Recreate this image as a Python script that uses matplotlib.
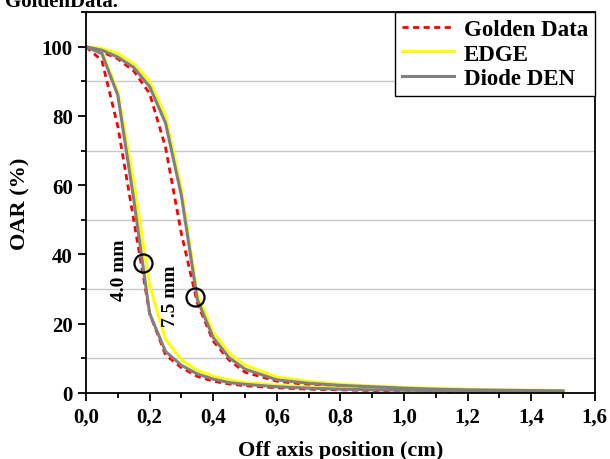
"""
OAR profiles for the 4.0 mm and 7.5 mm cones: golden data vs EDGE vs Diode DEN.
"""
import matplotlib
matplotlib.use("Agg")
import matplotlib.pyplot as plt
from matplotlib.ticker import MultipleLocator, FuncFormatter

# off axis position (cm), shared by all curves
pos_cm = [0, 0.05, 0.1, 0.15, 0.2, 0.25, 0.3, 0.35, 0.4, 0.45, 0.5,
          0.6, 0.7, 0.8, 0.9, 1.0, 1.1, 1.2, 1.3, 1.4, 1.5]

# 4.0 mm cone
golden_4mm = [100, 96, 77, 50, 23, 11, 7.3, 4.8, 3.4, 2.6, 2.1,
              1.5, 1.1, 0.9, 0.7, 0.6, 0.5, 0.4, 0.4, 0.3, 0.3]
edge_4mm = [100, 98.5, 87, 61, 31, 15.5, 9.5, 6.5, 4.8, 3.7, 3.0,
            2.2, 1.7, 1.4, 1.1, 0.9, 0.8, 0.7, 0.6, 0.6, 0.5]
diode_4mm = [100, 98, 86, 56, 23, 12, 8, 5.5, 4, 3, 2.5,
             1.8, 1.4, 1.1, 0.9, 0.8, 0.7, 0.6, 0.6, 0.5, 0.5]

# 7.5 mm cone
golden_75mm = [100, 98.5, 96.5, 93, 86.5, 71, 46, 26, 15, 9.5, 6,
               3.4, 2.4, 1.8, 1.4, 1.1, 0.9, 0.7, 0.6, 0.5, 0.4]
edge_75mm = [100, 99.5, 98, 95, 90, 80, 59, 28.5, 17.5, 11.5, 8,
             4.6, 3.3, 2.5, 2.0, 1.6, 1.3, 1.1, 0.9, 0.8, 0.7]
diode_75mm = [100, 99, 97, 94, 88.5, 78, 57, 27, 16, 10.2, 6.9,
              3.8, 2.8, 2.2, 1.8, 1.4, 1.1, 0.9, 0.8, 0.7, 0.6]

# circled points and cone labels
circle_x = [0.179, 0.344]
circle_y = [37.4, 27.6]
cone_labels = ["4.0 mm", "7.5 mm"]
label_x = [0.106, 0.267]
label_y = [35.7, 28.2]

plt.rcParams["font.family"] = ["Liberation Serif", "DejaVu Serif"]
plt.rcParams["font.weight"] = "bold"
plt.rcParams["axes.labelweight"] = "bold"
plt.rcParams["font.size"] = 15

fig = plt.figure(figsize=(6.1, 4.6), dpi=100)
ax = fig.add_axes([0.141, 0.1435, 0.834, 0.828])

ax.plot(pos_cm, golden_4mm, color="red", ls="--", lw=2.0, dashes=(2.2, 1.6), label="Golden Data")
ax.plot(pos_cm, golden_75mm, color="red", ls="--", lw=2.0, dashes=(2.2, 1.6))
ax.plot(pos_cm, edge_4mm, color="#ffff00", lw=2.2, label="EDGE")
ax.plot(pos_cm, edge_75mm, color="#ffff00", lw=2.2)
ax.plot(pos_cm, diode_4mm, color="#808080", lw=2.2, label="Diode DEN")
ax.plot(pos_cm, diode_75mm, color="#808080", lw=2.2)

ax.plot(circle_x, circle_y, ls="none", marker="o", ms=13, mfc="none",
        mec="black", mew=1.6, zorder=5)
for txt, tx, ty in zip(cone_labels, label_x, label_y):
    ax.text(tx, ty, txt, rotation=90, ha="center", va="center", fontsize=14)

ax.set_xlim(0, 1.6)
ax.set_ylim(0, 110)
ax.xaxis.set_major_locator(MultipleLocator(0.2))
ax.xaxis.set_minor_locator(MultipleLocator(0.1))
ax.yaxis.set_major_locator(MultipleLocator(20))
ax.yaxis.set_minor_locator(MultipleLocator(10))
ax.xaxis.set_major_formatter(FuncFormatter(lambda v, p: f"{v:.1f}".replace(".", ",")))
ax.yaxis.grid(True, which="minor", color="#c8c8c8", lw=1.0)
ax.set_axisbelow(True)

ax.tick_params(which="major", direction="out", length=6, width=1.3)
ax.tick_params(which="minor", direction="out", length=3.5, width=1.3)
for sp in ax.spines.values():
    sp.set_linewidth(1.3)

ax.set_xlabel("Off axis position (cm)", labelpad=10, fontsize=16)
ax.set_ylabel("OAR (%)", labelpad=8, fontsize=16)

leg = ax.legend(loc="upper right", borderaxespad=0, fancybox=False,
                edgecolor="black", framealpha=1, handlelength=2.3,
                labelspacing=0.15, borderpad=0.3, handletextpad=0.4,
                prop={"size": 16.5, "weight": "bold"})
leg.get_frame().set_linewidth(1.0)

fig.text(0.008, 0.985, "GoldenData.", ha="left", va="baseline", fontsize=15)

fig.savefig("out.png", dpi=100)
